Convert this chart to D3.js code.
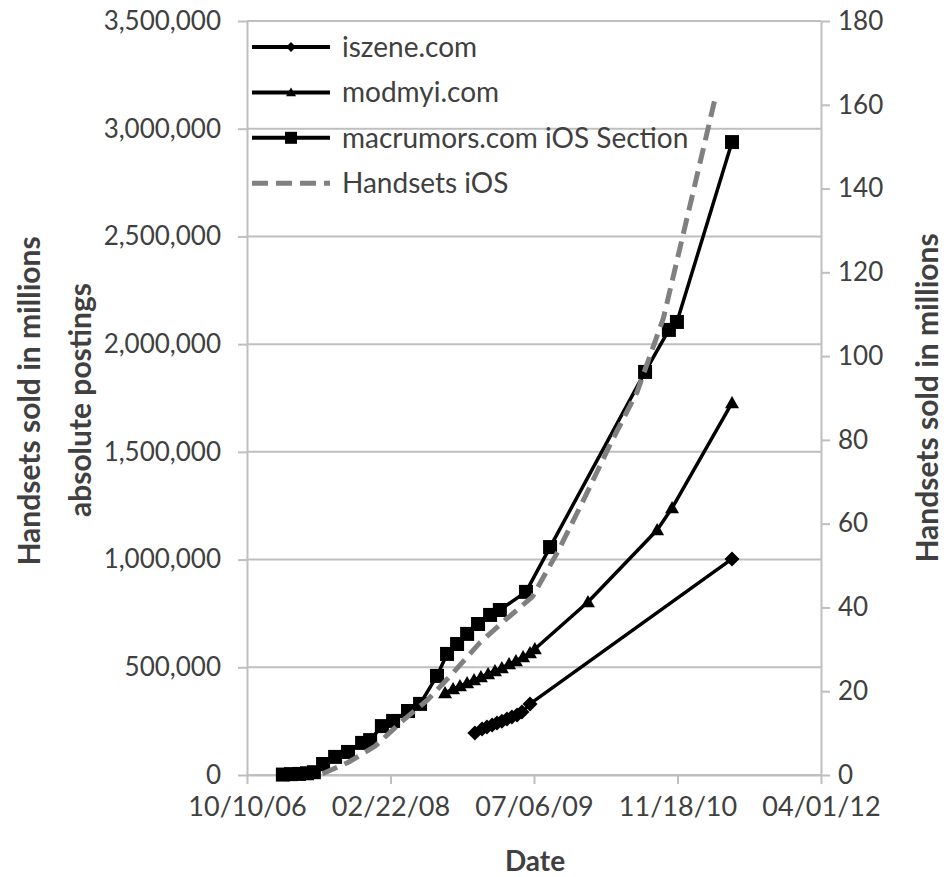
<!DOCTYPE html>
<html lang="en">
  <head>
    <meta charset="UTF-8" />
    <script src="https://d3js.org/d3.v7.min.js"></script>
    <title>Postings and handsets</title>
    <style>
      body { margin: 0; background: #fff; }
      text { font-family: Lato, "Open Sans", sans-serif; fill: #404040; }
    </style>
  </head>
  <body>
    <svg id="chart" width="951" height="877"></svg>

    <script>
      // postings are absolute counts
      const iszeneDates = ["2008-12-12", "2009-01-06", "2009-01-23", "2009-02-10", "2009-02-27", "2009-03-16",
        "2009-04-03", "2009-04-20", "2009-05-08", "2009-05-25", "2009-06-22", "2011-05-27"];
      const iszeneValues = [195000, 213000, 223000, 232000, 241000, 250000,
        260000, 269000, 278000, 292000, 330000, 1003000];

      const modmyiDates = ["2008-08-30", "2008-09-27", "2008-10-21", "2008-11-15", "2008-12-09", "2009-01-02",
        "2009-01-27", "2009-02-20", "2009-03-16", "2009-04-10", "2009-05-04", "2009-05-29", "2009-06-22",
        "2009-07-09", "2010-01-10", "2010-09-08", "2010-10-30", "2011-05-27"];
      const modmyiValues = [381000, 399000, 413000, 427000, 441000, 455000,
        469000, 483000, 497000, 515000, 529000, 548000, 566000,
        585000, 803000, 1137000, 1239000, 1727000];

      const macrumorsDates = ["2007-02-12", "2007-03-12", "2007-04-09", "2007-05-07", "2007-05-31", "2007-07-02",
        "2007-08-13", "2007-09-27", "2007-11-15", "2007-12-13", "2008-01-23", "2008-03-02", "2008-04-23",
        "2008-06-04", "2008-08-02", "2008-09-06", "2008-10-11", "2008-11-15", "2008-12-23", "2009-02-03",
        "2009-03-09", "2009-06-08", "2009-08-31", "2010-07-28", "2010-10-19", "2010-11-16", "2011-05-27"];
      const macrumorsValues = [2000, 4000, 5000, 8000, 13000, 51000,
        84000, 107000, 149000, 162000, 227000, 251000, 297000,
        330000, 460000, 562000, 608000, 655000, 701000, 743000,
        766000, 850000, 1058000, 1871000, 2066000, 2103000, 2938000];

      // handsets sold, millions (right axis)
      const handsetDates = ["2007-06-30", "2007-09-30", "2007-12-31", "2008-03-31", "2008-06-30", "2008-09-30",
        "2008-12-31", "2009-03-31", "2009-06-30", "2009-09-30", "2009-12-31", "2010-03-31", "2010-06-30",
        "2010-09-30", "2010-12-31", "2011-03-31"];
      const handsetValues = [0.3, 3.1, 6.9, 12.7, 17.9, 24.6,
        31.7, 37.2, 42.5, 53.7, 66.4, 79.3, 91.4,
        109.1, 135.8, 162.1];

      const xTickLabels = ["10/10/06", "02/22/08", "07/06/09", "11/18/10", "04/01/12"];
      const leftTicks = [0, 500000, 1000000, 1500000, 2000000, 2500000, 3000000, 3500000];
      const rightTicks = [0, 20, 40, 60, 80, 100, 120, 140, 160, 180];

      const svg = d3.select("#chart");
      const plotLeft = 247, plotRight = 821, plotTop = 21, plotBottom = 775;

      const parseIso = d3.timeParse("%Y-%m-%d");
      const parseTick = d3.timeParse("%m/%d/%y");
      const fmtTick = d3.timeFormat("%m/%d/%y");

      const x = d3.scaleTime()
        .domain([parseTick(xTickLabels[0]), parseTick(xTickLabels[xTickLabels.length - 1])])
        .range([plotLeft, plotRight]);
      const yL = d3.scaleLinear().domain([0, 3500000]).range([plotBottom, plotTop]);
      const yR = d3.scaleLinear().domain([0, 180]).range([plotBottom, plotTop]);

      const grey = "#bfbfbf";

      // gridlines
      svg.append("g")
        .selectAll("line")
        .data(leftTicks)
        .enter()
        .append("line")
        .attr("x1", plotLeft).attr("x2", plotRight)
        .attr("y1", d => yL(d)).attr("y2", d => yL(d))
        .attr("stroke", grey).attr("stroke-width", 2);

      function styleAxis(g, size) {
        g.select(".domain").attr("stroke", grey).attr("stroke-width", 2);
        g.selectAll(".tick line").attr("stroke", grey).attr("stroke-width", 2);
        g.selectAll(".tick text").attr("font-size", size).attr("fill", "#404040")
          .style("font-family", "Lato, sans-serif");
      }

      const gLeft = svg.append("g").attr("transform", `translate(${plotLeft},0)`)
        .call(d3.axisLeft(yL).tickValues(leftTicks).tickSize(9).tickSizeOuter(0).tickFormat(d3.format(",")));
      styleAxis(gLeft, 26);
      gLeft.selectAll(".tick text").attr("x", -26);

      const gRight = svg.append("g").attr("transform", `translate(${plotRight},0)`)
        .call(d3.axisRight(yR).tickValues(rightTicks).tickSize(9).tickSizeOuter(0));
      styleAxis(gRight, 26);
      gRight.selectAll(".tick text").attr("x", 17);

      const gBottom = svg.append("g").attr("transform", `translate(0,${plotBottom})`)
        .call(d3.axisBottom(x).tickValues(xTickLabels.map(parseTick)).tickSize(9).tickSizeOuter(0).tickFormat(fmtTick));
      styleAxis(gBottom, 27);
      gBottom.selectAll(".tick text").attr("y", 22);

      // axis titles
      function title(txt, tx, ty, rotate, size) {
        svg.append("text")
          .attr("transform", `translate(${tx},${ty}) rotate(${rotate})`)
          .attr("text-anchor", "middle")
          .attr("font-size", size).attr("font-weight", "bold").attr("fill", "#000")
          .style("font-family", "Lato, sans-serif")
          .text(txt);
      }
      title("Handsets sold in millions", 40, 401, -90, 30);
      title("absolute postings", 91, 400, -90, 30);
      title("Handsets sold in millions", 938, 398, -90, 30);
      title("Date", 535, 871, 0, 28);

      // markers
      const diamond = r => `M0,${-r}L${r},0L0,${r}L${-r},0Z`;
      const triangle = r => `M0,${-r}L${r},${r * 0.75}L${-r},${r * 0.75}Z`;
      const square = r => `M${-r},${-r}H${r}V${r}H${-r}Z`;

      const series = [
        { name: "iszene.com", dates: iszeneDates, values: iszeneValues, marker: diamond(7.5), legendMarker: diamond(5) },
        { name: "modmyi.com", dates: modmyiDates, values: modmyiValues, marker: triangle(7), legendMarker: triangle(5) },
        { name: "macrumors.com iOS Section", dates: macrumorsDates, values: macrumorsValues, marker: square(7), legendMarker: square(6) }
      ];

      const lineL = d3.line().x(d => x(d[0])).y(d => yL(d[1]));
      const lineR = d3.line().x(d => x(d[0])).y(d => yR(d[1]));

      const handsetPts = handsetDates.map((d, i) => [parseIso(d), handsetValues[i]]);

      series.forEach(s => {
        const pts = s.dates.map((d, i) => [parseIso(d), s.values[i]]);
        svg.append("path")
          .attr("d", lineL(pts))
          .attr("fill", "none").attr("stroke", "#000").attr("stroke-width", 3.5)
          .attr("stroke-linejoin", "round");
        svg.append("g")
          .selectAll("path")
          .data(pts)
          .enter()
          .append("path")
          .attr("transform", d => `translate(${x(d[0])},${yL(d[1])})`)
          .attr("d", s.marker)
          .attr("fill", "#000");
      });

      svg.append("path")
        .attr("d", lineR(handsetPts))
        .attr("fill", "none").attr("stroke", "#808080").attr("stroke-width", 5)
        .attr("stroke-dasharray", "16,8");

      // legend
      const legendNames = series.map(s => s.name).concat(["Handsets iOS"]);
      const legend = svg.append("g").attr("transform", "translate(252,47)");
      legendNames.forEach((name, i) => {
        const row = legend.append("g").attr("transform", `translate(0,${i * 45.4})`);
        const dashed = i === 3;
        row.append("line")
          .attr("x1", 0).attr("x2", 78)
          .attr("stroke", dashed ? "#808080" : "#000")
          .attr("stroke-width", dashed ? 5 : 4)
          .attr("stroke-dasharray", dashed ? "16,8" : null);
        if (!dashed) {
          row.append("path").attr("transform", "translate(39,0)").attr("d", series[i].legendMarker).attr("fill", "#000");
        }
        row.append("text")
          .attr("x", 90).attr("y", 10)
          .attr("font-size", 28).attr("fill", "#404040")
          .style("font-family", "Lato, sans-serif")
          .text(name);
      });
    </script>
  </body>
</html>
